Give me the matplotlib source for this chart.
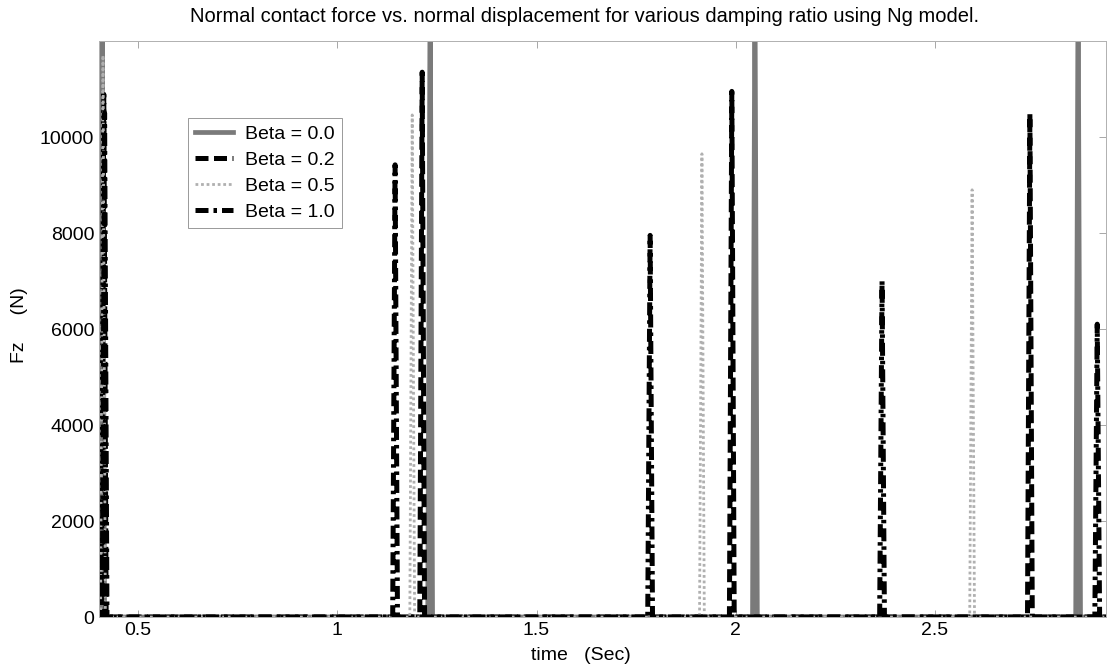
import matplotlib
matplotlib.use("Agg")
import matplotlib.pyplot as plt
import numpy as np

plt.rcParams['font.family'] = ['Liberation Sans', 'DejaVu Sans']

# Impact times (s) and peak normal forces (N) for each damping ratio
t_start, t_end = 0.395, 2.95
contact_half = 0.006

beta_labels = ["Beta = 0.0", "Beta = 0.2", "Beta = 0.5", "Beta = 1.0"]

impact_t_b00 = [0.410, 1.233, 2.048, 2.859]
peak_b00 = [13500, 13500, 13500, 13500]

impact_t_b02 = [0.414, 1.213, 1.990, 2.738]
peak_b02 = [10890, 11350, 10950, 10480]

impact_t_b05 = [0.412, 1.188, 1.915, 2.593]
peak_b05 = [11700, 10460, 9650, 8900]

impact_t_b10 = [0.416, 1.145, 1.785, 2.367, 2.907]
peak_b10 = [10500, 9420, 7950, 7000, 6100]


def force_trace(times, peaks):
    xs, ys = [t_start], [0.0]
    for t, p in zip(times, peaks):
        xs += [t - contact_half, t, t + contact_half]
        ys += [0.0, p, 0.0]
    xs.append(t_end)
    ys.append(0.0)
    return np.array(xs), np.array(ys)


fig = plt.figure(figsize=(11.08, 6.71), dpi=100)
ax = fig.add_axes([99 / 1108, 1 - 617 / 671, 1007 / 1108, 576 / 671])

styles = [
    dict(color="#7a7a7a", lw=3.4, ls="-"),
    dict(color="black", lw=3.6, ls=(0, (2.6, 1.1))),
    dict(color="#b0b0b0", lw=2.0, ls=(0, (1.0, 1.0))),
    dict(color="black", lw=3.6, ls=(0, (2.6, 1.0, 0.7, 1.0))),
]
series = [(impact_t_b00, peak_b00), (impact_t_b02, peak_b02),
          (impact_t_b05, peak_b05), (impact_t_b10, peak_b10)]

for (ts, ps), st, lab in zip(series, styles, beta_labels):
    x, y = force_trace(ts, ps)
    ax.plot(x, y, label=lab, solid_joinstyle="miter", **st)

ax.set_xlim(0.402, 2.929)
ax.set_ylim(0, 12000)
ax.set_xticks([0.5, 1, 1.5, 2, 2.5])
ax.set_xticklabels(["0.5", "1", "1.5", "2", "2.5"])
ax.set_yticks([0, 2000, 4000, 6000, 8000, 10000])
ax.tick_params(direction="in", labelsize=14, length=5, width=0.6,
               top=True, right=True, colors="#999999", labelcolor="black")
for s in ax.spines.values():
    s.set_linewidth(0.7)
    s.set_color("#b0b0b0")

leg = ax.legend(loc="upper left", bbox_to_anchor=(0.0884, 0.866), borderaxespad=0,
                fontsize=14, handlelength=1.95, handletextpad=0.65, borderpad=0.35,
                labelspacing=0.44, fancybox=False, framealpha=1)
leg.get_frame().set_edgecolor("#999999")
leg.get_frame().set_linewidth(0.7)

fig.text(585 / 1108, 1 - 17 / 671,
         "Normal contact force vs. normal displacement for various damping ratio using Ng model.",
         ha="center", va="center", fontsize=14.5)
fig.text(581 / 1108, 1 - 655 / 671, "time   (Sec)", ha="center", va="center", fontsize=14)
fig.text(20 / 1108, 1 - 325 / 671, "Fz     (N)", ha="center", va="center",
         rotation=90, fontsize=14)

fig.savefig("out.png", dpi=100, facecolor="white")
